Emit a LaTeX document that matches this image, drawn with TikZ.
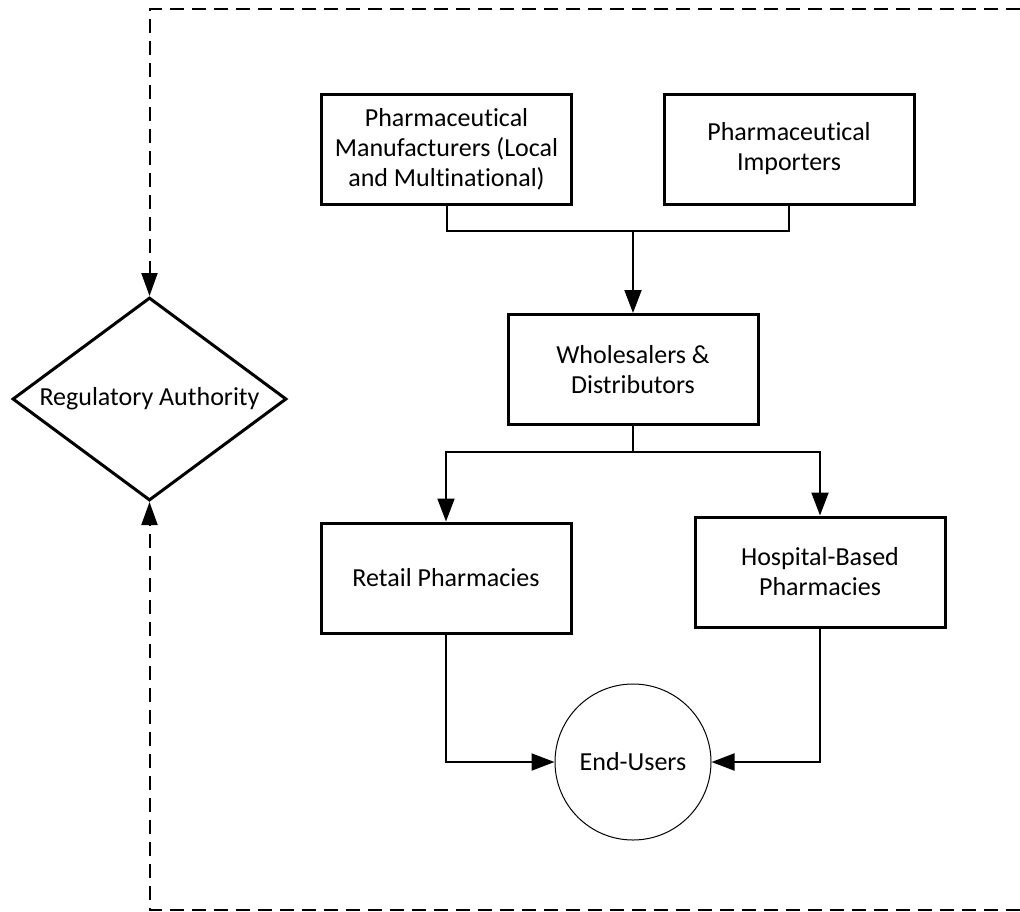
\documentclass[tikz,border=0pt]{standalone}
\usepackage{fontspec}
\setmainfont{Carlito}[Ligatures={NoCommon}]
\usetikzlibrary{arrows.meta,shapes.geometric}
\begin{document}
\begin{tikzpicture}[x=1pt,y=-1pt,
  lbl/.style={font=\fontsize{26}{30}\selectfont, align=center},
  box/.style={lbl, draw, line width=3pt, minimum width=250pt, minimum height=110pt, inner sep=0pt},
  diam/.style={lbl, draw, line width=3pt, shape=diamond, aspect=1.35, minimum width=274pt, minimum height=203pt, inner sep=0pt},
  enduser/.style={lbl, draw, line width=1pt, circle, minimum size=156pt, inner sep=0pt},
  link/.style={line width=2pt},
  flow/.style={line width=2pt, -{Triangle[length=23pt,width=17pt]}},
  reg/.style={line width=2pt, dash pattern=on 14pt off 8pt, -{Triangle[length=23pt,width=16pt]}}]
\useasboundingbox (0,0) rectangle (1020,911);

% supply chain nodes
\node[box] (mfr) at (446.5,149) {Pharmaceutical\\Manufacturers (Local\\and Multinational)};
\node[box] (imp) at (789,149) {Pharmaceutical\\Importers};
\node[box] (whs) at (633,369.5) {Wholesalers \&\\Distributors};
\node[box] (ret) at (446,578) {Retail Pharmacies};
\node[box] (hosp) at (820,572) {Hospital-Based\\Pharmacies};
\node[enduser] (end) at (633,762) {End-Users};
\node[diam] (auth) at (149.5,399) {Regulatory Authority};

% junction points of the tree connectors
\coordinate (join) at (633,231);
\coordinate (split) at (633,452);

% producers merge into the wholesale level
\draw[link] (mfr.south) |- (join) -| (imp.south);
\draw[flow] (join) -- (whs.north);

% wholesale splits into the two pharmacy types
\draw[link] (whs.south) -- (split);
\draw[flow] (split) -| (ret.north);
\draw[flow] (split) -| (hosp.north);

% pharmacies deliver to end-users
\draw[flow] (ret.south) |- (end.west);
\draw[flow] (hosp.south) |- (end.east);

% regulatory oversight frame
\coordinate (topR) at (1020,9);
\coordinate (topL) at (149.5,9);
\coordinate (botR) at (1020,909.5);
\coordinate (botL) at (149.5,909.5);
\draw[reg] (topR) -- (topL) -- (auth.north);
\draw[reg] (botR) -- (botL) -- (auth.south);
\end{tikzpicture}
\end{document}
